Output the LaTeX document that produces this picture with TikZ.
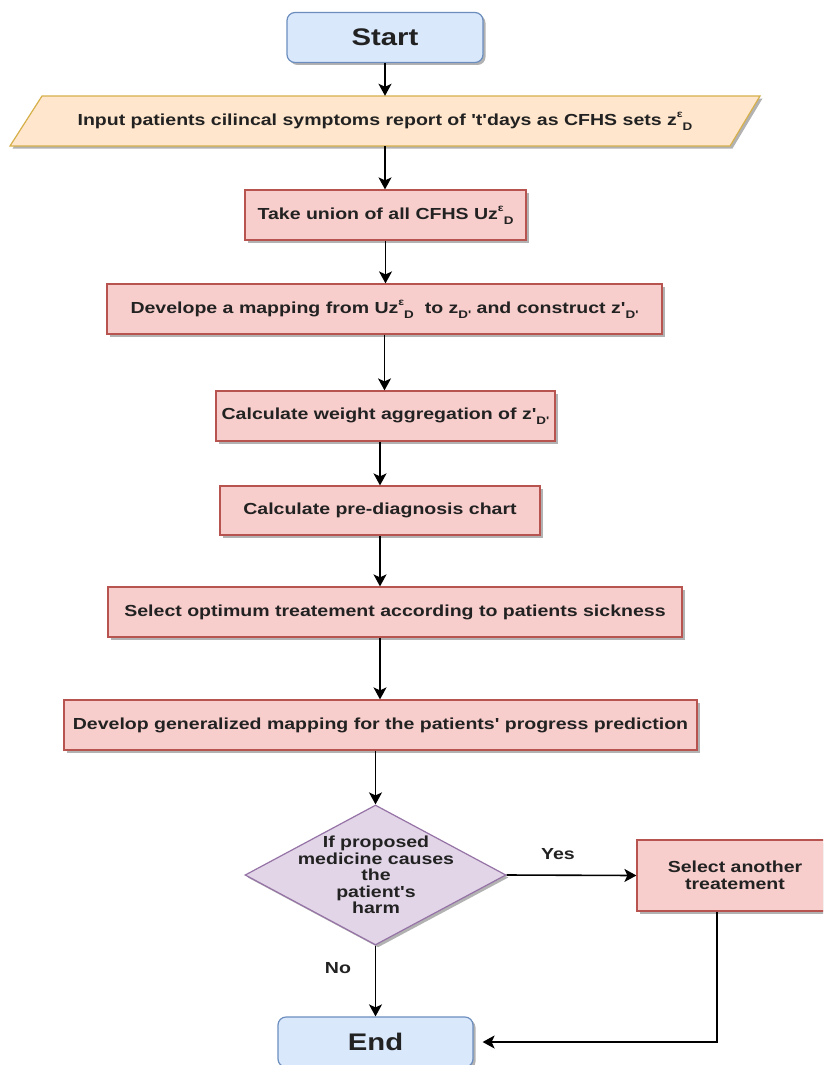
\documentclass[tikz,border=0pt]{standalone}
\usepackage{fontspec}
\newfontfamily\dfont[FakeStretch=1.22]{Liberation Sans}
\usetikzlibrary{shapes.geometric,arrows.meta,shadows,calc}
\definecolor{termfill}{HTML}{DAE8FC}
\definecolor{termline}{HTML}{6C8EBF}
\definecolor{iofill}{HTML}{FFE6CC}
\definecolor{ioline}{HTML}{D6B04A}
\definecolor{procfill}{HTML}{F8CECC}
\definecolor{procline}{HTML}{B85450}
\definecolor{decfill}{HTML}{E1D5E7}
\definecolor{decline}{HTML}{9673A6}
\definecolor{txt}{HTML}{222222}
\newcommand\upr[1]{\raisebox{0.5em}{\fontsize{10}{10}\selectfont #1}}
\newcommand\dnr[1]{\raisebox{-0.3em}{\fontsize{11}{11}\selectfont #1}}
\tikzset{
  shad/.style={drop shadow={shadow xshift=2.5pt,shadow yshift=-2.5pt,opacity=0.3,fill=black}},
  term/.style={draw=termline, fill=termfill, rounded corners=8pt, line width=1.2pt,
    minimum height=50pt, inner sep=0pt, shad, text=txt,
    font=\dfont\bfseries\fontsize{24}{26}\selectfont},
  proc/.style={draw=procline, fill=procfill, line width=1.2pt, minimum height=50pt,
    inner sep=0pt, shad, text=txt},
  lbl/.style={text=txt, inner sep=0pt},
  arr/.style={line width=1.6pt, draw=black, -{Stealth[length=12pt,width=13pt,inset=3pt]}}
}
\begin{document}
\begin{tikzpicture}[x=1pt, y=-1pt, font=\dfont\bfseries\fontsize{16}{16.5}\selectfont]
\useasboundingbox (0,0) rectangle (823,1065);
\clip (0,0) rectangle (823,1065);
\fill[white] (0,0) rectangle (823,1065);

\node[term, minimum width=196pt] (start) at (385,37.5) {Start};

\path[draw=ioline, fill=iofill, line width=1.2pt, shad]
  (42,96) -- (760,96) -- (730,146) -- (10,146) -- cycle;
\node[lbl, minimum width=720pt, minimum height=50pt] (input) at (385,121)
  {Input patients cilincal symptoms report of 't'days as CFHS sets z\upr{ε}\dnr{D}};

\node[proc, minimum width=281pt] (union) at (385.5,215) {Take union of all CFHS Uz\upr{ε}\dnr{D}};
\node[proc, minimum width=555pt] (mapping) at (384.5,309)
  {Develope a mapping from Uz\upr{ε}\dnr{D}\ \ to z\dnr{D'} and construct z'\dnr{D'}};
\node[proc, minimum width=339pt] (weight) at (385.5,416) {Calculate weight aggregation of z'\dnr{D'}};
\node[proc, minimum width=320pt, minimum height=49pt] (prediag) at (380,510.5) {Calculate pre-diagnosis chart};
\node[proc, minimum width=574pt] (optimum) at (395,612) {Select optimum treatement according to patients sickness};
\node[proc, minimum width=633pt] (develop) at (380.5,725) {Develop generalized mapping for the patients' progress prediction};

\node[diamond, draw=decline, fill=decfill, line width=1.2pt, minimum width=261pt,
  minimum height=140pt, inner sep=0pt, shad] (dec) at (375.5,875) {};
\node[lbl, align=center] (dectext) at (376,875) {If proposed\\medicine causes\\the\\patient's\\harm};

\node[proc, minimum width=196pt, minimum height=71pt, align=center] (sel) at (735,875.5)
  {Select another\\treatement};

\node[term, minimum width=195pt] (end) at (375.5,1042) {End};

\node[lbl] (yes) at (558,854) {Yes};
\node[lbl] (no) at (338,968) {No};

\coordinate (turn) at (717,1041);

\draw[arr] (start.south) -- (start.south |- input.north);
\draw[arr] (input.south) -- (input.south |- union.north);
\draw[arr] (union.south) -- (union.south |- mapping.north);
\draw[arr] (mapping.south) -- (mapping.south |- weight.north);
\draw[arr] (weight.south -| prediag.north) -- (prediag.north);
\draw[arr] (prediag.south) -- (prediag.south |- optimum.north);
\draw[arr] (prediag.south |- optimum.south) -- (prediag.south |- develop.north);
\draw[arr] (develop.south -| dec.north) -- (dec.north);
\draw[arr] (dec.east) -- (sel.west);
\draw[arr] (dec.south) -- (end.north);
\draw[arr, shorten >=9pt] (sel.south -| turn) |- (end.east);
\end{tikzpicture}
\end{document}
